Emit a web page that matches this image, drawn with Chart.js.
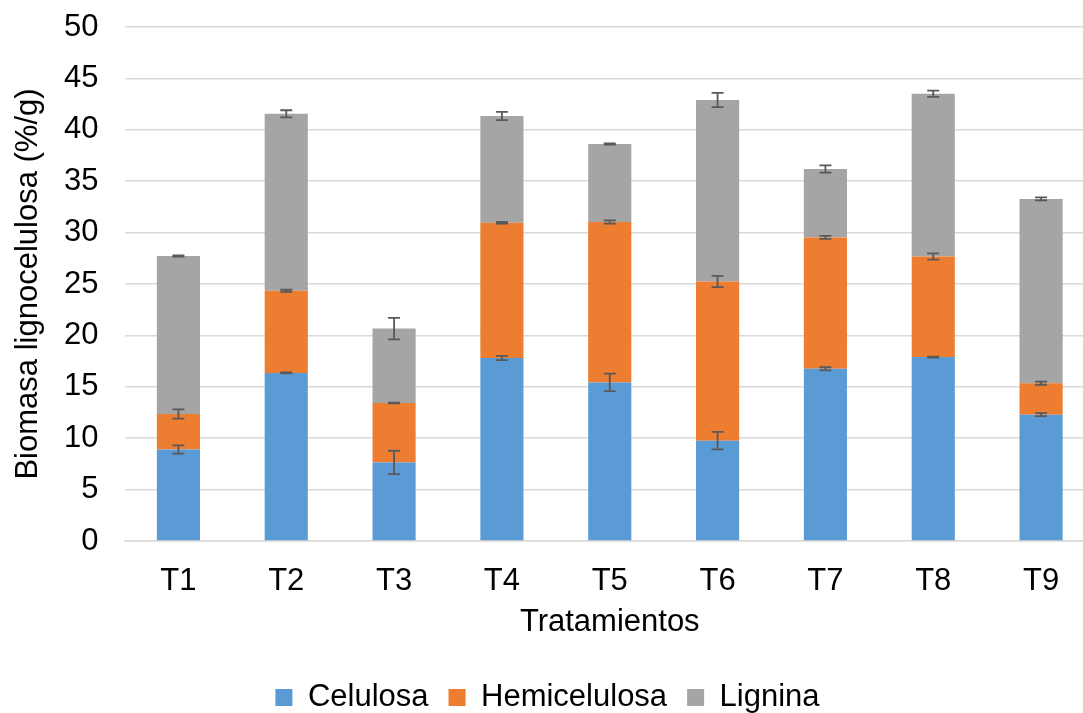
<!DOCTYPE html>
<html>
<head>
<meta charset="utf-8">
<script src="https://cdn.jsdelivr.net/npm/chart.js@4.4.1/dist/chart.umd.min.js"></script>
<style>
html,body{margin:0;padding:0;background:#fff;overflow:hidden;width:1083px;height:713px;}
#wrap{position:relative;width:1095px;height:723px;}
</style>
</head>
<body>
<div id="wrap"><canvas id="c" width="1095" height="723"></canvas></div>
<script>
const categories = ['T1','T2','T3','T4','T5','T6','T7','T8','T9'];
const celulosa = [8.9, 16.35, 7.64, 17.8, 15.43, 9.76, 16.75, 17.89, 12.29];
const hemicelulosa = [3.46, 7.99, 5.79, 13.16, 15.6, 15.49, 12.78, 9.78, 3.06];
const lignina = [15.36, 17.21, 7.23, 10.38, 7.59, 17.65, 6.65, 15.84, 17.93];
const errCelulosa = [0.4, 0.05, 1.14, 0.2, 0.85, 0.85, 0.15, 0.05, 0.15];
const errHemicelulosa = [0.45, 0.1, 0.03, 0.08, 0.15, 0.55, 0.15, 0.3, 0.15];
const errLignina = [0.05, 0.35, 1.04, 0.4, 0.05, 0.7, 0.35, 0.3, 0.15];
const yTicks = [0,5,10,15,20,25,30,35,40,45,50];

const errors = [errCelulosa, errHemicelulosa, errLignina];

const errorBarPlugin = {
  id: 'errorBars',
  afterDatasetsDraw(chart) {
    const ctx = chart.ctx;
    const yScale = chart.scales.y;
    ctx.save();
    ctx.strokeStyle = '#595959';
    ctx.lineWidth = 1.8;
    chart.data.datasets.forEach((ds, i) => {
      const meta = chart.getDatasetMeta(i);
      meta.data.forEach((el, j) => {
        let cum = 0;
        for (let k = 0; k <= i; k++) cum += chart.data.datasets[k].data[j];
        const e = errors[i][j];
        const yTop = yScale.getPixelForValue(cum + e);
        const yBot = yScale.getPixelForValue(cum - e);
        const x = el.x;
        const cap = 6;
        ctx.beginPath();
        ctx.moveTo(x, yTop); ctx.lineTo(x, yBot);
        ctx.moveTo(x - cap, yTop); ctx.lineTo(x + cap, yTop);
        ctx.moveTo(x - cap, yBot); ctx.lineTo(x + cap, yBot);
        ctx.stroke();
      });
    });
    ctx.restore();
  }
};

const font = {family: '"Liberation Sans", Arial, sans-serif', size: 31};

new Chart(document.getElementById('c'), {
  type: 'bar',
  data: {
    labels: categories,
    datasets: [
      {label: 'Celulosa', data: celulosa, backgroundColor: '#5B9BD5'},
      {label: 'Hemicelulosa', data: hemicelulosa, backgroundColor: '#ED7D31'},
      {label: 'Lignina', data: lignina, backgroundColor: '#A5A5A5'}
    ]
  },
  options: {
    responsive: false,
    animation: false,
    devicePixelRatio: 1,
    categoryPercentage: 0.4,
    barPercentage: 1,
    layout: {padding: {top: 27, right: 0, bottom: 0, left: 0}},
    plugins: {
      tooltip: {enabled: false},
      legend: {
        position: 'bottom',
        labels: {
          font: font, color: '#000',
          boxWidth: 17, boxHeight: 17, padding: 20
        }
      }
    },
    scales: {
      x: {
        stacked: true,
        grid: {display: false},
        border: {display: true, color: '#d9d9d9', width: 1.5},
        ticks: {font: font, color: '#000', padding: 14},
        title: {display: true, text: 'Tratamientos', font: font, color: '#000', padding: {top: 0, bottom: 21}},
        afterFit(scale) { scale.height = 121; }
      },
      y: {
        stacked: true,
        min: 0, max: 50,
        afterBuildTicks(scale) { scale.ticks = yTicks.map(v => ({value: v})); },
        grid: {color: '#d9d9d9', lineWidth: 1.5, drawTicks: false},
        border: {display: false},
        ticks: {font: font, color: '#000', padding: 26},
        title: {display: true, text: 'Biomasa lignocelulosa (%/g)', font: font, color: '#000', padding: {top: 10, bottom: 0}},
        afterFit(scale) { scale.width = 124.5; scale.paddingTop = 0; scale.paddingBottom = 0; }
      }
    }
  },
  plugins: [errorBarPlugin]
});
</script>
</body>
</html>
